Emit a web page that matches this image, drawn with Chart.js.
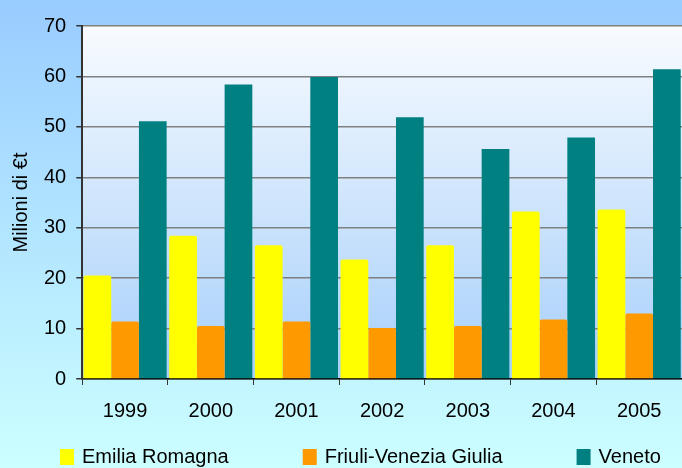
<!DOCTYPE html>
<html>
<head>
<meta charset="utf-8">
<script src="https://cdn.jsdelivr.net/npm/chart.js@4"></script>
<style>
  html, body { margin: 0; padding: 0; background: #ccffff; }
  #wrap { width: 682px; height: 468px; }
</style>
</head>
<body>
<div id="wrap"><canvas id="chart" width="682" height="468"></canvas></div>
<script>
// values (Milioni di €)
const years = ['1999', '2000', '2001', '2002', '2003', '2004', '2005']
const emiliaRomagna = [20.5, 28.4, 26.5, 23.7, 26.5, 33.2, 33.6]
const friuliVeneziaGiulia = [11.4, 10.5, 11.4, 10.1, 10.5, 11.8, 13.0]
const veneto = [51.1, 58.4, 59.9, 51.9, 45.6, 47.9, 61.4]

const FONT = '"Liberation Sans", Arial, sans-serif'
Chart.defaults.font.family = FONT
Chart.defaults.font.size = 20
Chart.defaults.color = '#000'

// page + plot area gradients
const backgrounds = {
  id: 'backgrounds',
  beforeDraw(chart) {
    const { ctx, width, height, chartArea: a } = chart
    ctx.save()
    let g = ctx.createLinearGradient(0, 0, 0, height)
    g.addColorStop(0, '#99ccff')
    g.addColorStop(1, '#ccffff')
    ctx.fillStyle = g
    ctx.fillRect(0, 0, width, height)
    g = ctx.createLinearGradient(0, a.top, 0, a.bottom)
    g.addColorStop(0, '#f8fbff')
    g.addColorStop(1, '#a6cffa')
    ctx.fillStyle = g
    ctx.fillRect(a.left, a.top, a.right - a.left, a.bottom - a.top)
    ctx.restore()
  }
}

// legend row along the bottom, spaced like the original
const bottomLegend = {
  id: 'bottomLegend',
  afterDraw(chart) {
    const ctx = chart.ctx
    ctx.save()
    ctx.font = '20px ' + FONT
    ctx.textBaseline = 'middle'
    let x = 60
    const y = 457
    chart.data.datasets.forEach(ds => {
      ctx.fillStyle = ds.backgroundColor
      ctx.fillRect(x, y - 8, 14, 16)
      ctx.fillStyle = '#000'
      ctx.fillText(ds.label, x + 22, y)
      x += 22 + ctx.measureText(ds.label).width + 74
    })
    ctx.restore()
  }
}

const barStyle = { borderRadius: 2, borderSkipped: 'bottom', barPercentage: 1, categoryPercentage: 0.97 }

new Chart(document.getElementById('chart'), {
  type: 'bar',
  data: {
    labels: years,
    datasets: [
      { label: 'Emilia Romagna', data: emiliaRomagna, backgroundColor: '#ffff00', ...barStyle },
      { label: 'Friuli-Venezia Giulia', data: friuliVeneziaGiulia, backgroundColor: '#ff9900', ...barStyle },
      { label: 'Veneto', data: veneto, backgroundColor: '#008080', ...barStyle, borderRadius: 0 }
    ]
  },
  plugins: [backgrounds, bottomLegend],
  options: {
    responsive: false,
    animation: false,
    layout: { padding: { left: 5, top: 26, right: 0, bottom: 31 } },
    plugins: {
      legend: { display: false },
      tooltip: { enabled: false }
    },
    scales: {
      x: {
        grid: { drawOnChartArea: false, tickLength: 6, color: '#333' },
        border: { color: '#000', width: 1.5 },
        ticks: { padding: 14, font: { size: 20 } }
      },
      y: {
        min: 0,
        max: 70,
        ticks: { stepSize: 10, padding: 10, font: { size: 20 } },
        grid: { color: '#808080', lineWidth: 1.5, tickLength: 6, tickColor: '#333' },
        border: { color: '#333', width: 2 },
        title: {
          display: true,
          text: 'Milioni di €t',
          font: { size: 20 },
          padding: { top: 4, bottom: 1 }
        }
      }
    }
  }
})
</script>
</body>
</html>
